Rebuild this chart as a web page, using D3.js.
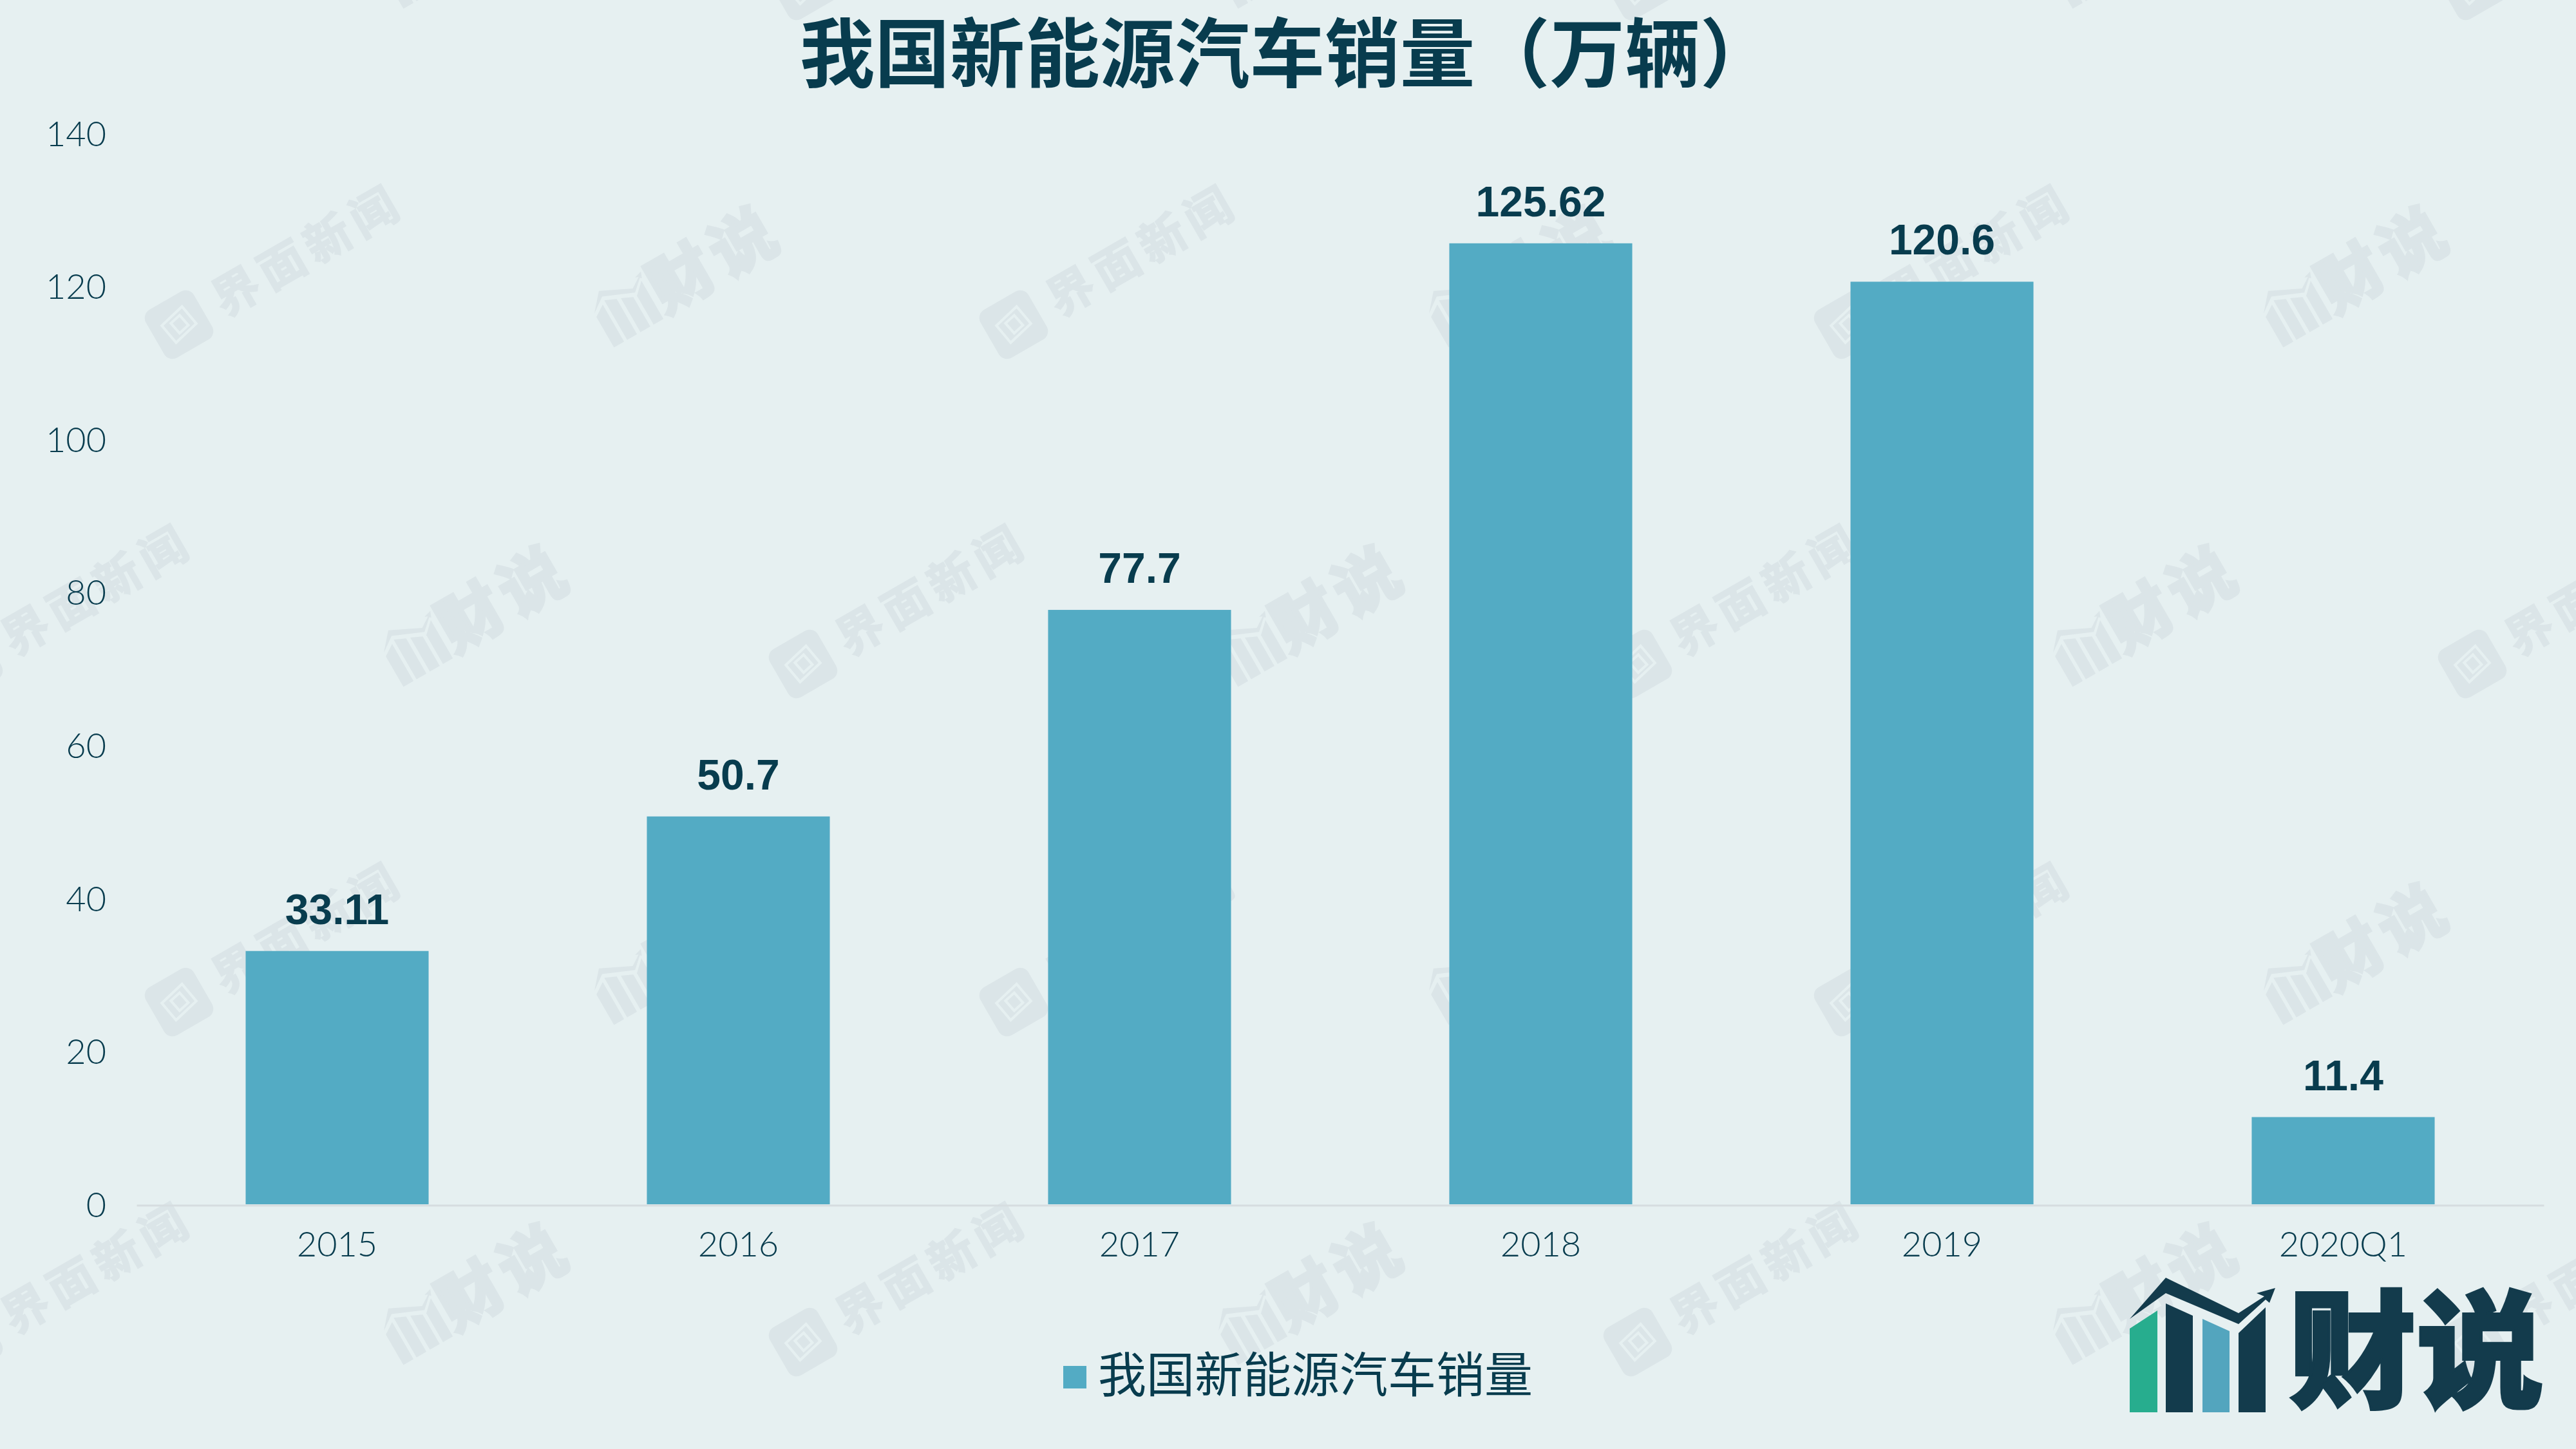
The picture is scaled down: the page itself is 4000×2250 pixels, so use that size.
<!DOCTYPE html>
<html>
<head>
<meta charset="utf-8">
<script src="https://cdn.jsdelivr.net/npm/d3@7"></script>
<style>
  html, body { margin: 0; padding: 0; background: #e6f0f1; }
  svg { display: block; }
  .cjk { font-family: "Noto Sans CJK SC", sans-serif; }
</style>
</head>
<body>
<svg id="chart"></svg>
<script>
var categories = ["2015", "2016", "2017", "2018", "2019", "2020Q1"];
var sales = [33.11, 50.7, 77.7, 125.62, 120.6, 11.4];
var yTicks = [0, 20, 40, 60, 80, 100, 120, 140];
var chartTitle = "我国新能源汽车销量（万辆）";
var seriesName = "我国新能源汽车销量";

var width = 4000, height = 2250;
var textColor = "#083c4e", barColor = "#53abc4", markColor = "#dbe5e8", bg = "#e6f0f1";

var svg = d3.select("#chart").attr("width", width).attr("height", height);
svg.append("rect").attr("width", width).attr("height", height).attr("fill", bg);

// logo shape, drawn around its own centre
var logoBars = [
    { fill: "#27ad8e", pts: [[-105, -27], [-62, -55], [-62, 103], [-105, 103]] },
    { fill: "#133b4c", pts: [[-49, -66], [-7, -47], [-7, 103], [-49, 103]] },
    { fill: "#53a5be", pts: [[8, -42], [50, -23], [50, 103], [8, 103]] },
    { fill: "#133b4c", pts: [[64, -20], [106, -60], [106, 103], [64, 103]] }
];
var logoArrow = [[-105, -42], [-49, -106], [64, -51], [104, -77], [92, -82], [121, -90], [112, -67], [106, -72], [64, -34], [-49, -82]];

function drawMark(g, scale, color) {
    var m = g.append("g").attr("transform", "scale(" + scale + ")");
    logoBars.forEach(function(b) {
        m.append("polygon").attr("points", b.pts.join(" ")).attr("fill", color || b.fill);
    });
    m.append("polygon").attr("points", logoArrow.join(" ")).attr("fill", color || "#133b4c");
}

// background watermark, repeats across the slide
var wmRows = [-22, 504, 1031, 1556, 2084];
var wmStart = [-49, 278];
wmRows.forEach(function(y, r) {
    for (var x = wmStart[r % 2] - 1296; x < width + 400; x += 1296) {
        var a = svg.append("g").attr("transform", "translate(" + x + "," + y + ") rotate(-30)");
        a.append("rect").attr("x", -43).attr("y", -43).attr("width", 86).attr("height", 86)
            .attr("rx", 15).attr("fill", markColor);
        a.append("path").attr("d", "M-24,-12 L18,-22 L24,12 L-18,22 Z M-10,-8 L8,-12 L12,8 L-6,12 Z")
            .attr("fill", "none").attr("stroke", bg).attr("stroke-width", 4);
        a.append("text").attr("class", "cjk").attr("x", 67).attr("y", 26)
            .attr("font-size", 72).attr("font-weight", 700).attr("letter-spacing", 10)
            .attr("fill", markColor).attr("stroke", markColor).attr("stroke-width", 2).text("界面新闻");

        var b = svg.append("g").attr("transform", "translate(" + (x + 692) + "," + (y - 24) + ") rotate(-30)");
        drawMark(b, 0.42, markColor);
        b.append("text").attr("class", "cjk").attr("x", 50).attr("y", 38)
            .attr("font-size", 100).attr("font-weight", 700).attr("letter-spacing", 10)
            .attr("fill", markColor).attr("stroke", markColor).attr("stroke-width", 5).text("财说");
    }
});

var x = d3.scaleBand().domain(categories).range([212, 3950]).paddingInner(0.544).paddingOuter(0.272);
var y = d3.scaleLinear().domain([0, 140]).range([1870, 207]);

svg.selectAll(".bar")
    .data(sales)
    .enter().append("rect")
    .attr("class", "bar")
    .attr("x", function(d, i) { return x(categories[i]); })
    .attr("y", function(d) { return y(d); })
    .attr("width", x.bandwidth())
    .attr("height", function(d) { return y(0) - y(d); })
    .attr("fill", barColor);

// axes
var xAxis = svg.append("g").attr("transform", "translate(0,1871.5)")
    .call(d3.axisBottom(x).tickSize(0).tickPadding(41));
xAxis.select(".domain").attr("stroke", "#d6dde0").attr("stroke-width", 3);
xAxis.selectAll("text").attr("font-family", "Lato").attr("font-weight", 300)
    .attr("font-size", 54).attr("fill", textColor);

var yAxis = svg.append("g").attr("transform", "translate(165,2)")
    .call(d3.axisLeft(y).tickValues(yTicks).tickSize(0).tickPadding(0));
yAxis.select(".domain").remove();
yAxis.selectAll("text").attr("font-family", "Lato").attr("font-weight", 300)
    .attr("font-size", 54).attr("fill", textColor);

// value labels
svg.selectAll(".val")
    .data(sales)
    .enter().append("text")
    .attr("class", "val")
    .attr("x", function(d, i) { return x(categories[i]) + x.bandwidth() / 2; })
    .attr("y", function(d) { return y(d) - 42; })
    .attr("text-anchor", "middle")
    .attr("font-family", "Liberation Sans")
    .attr("font-weight", 700)
    .attr("font-size", 66)
    .attr("fill", textColor)
    .text(function(d) { return d; });

// title
svg.append("text").attr("class", "cjk")
    .attr("x", 1999).attr("y", 126)
    .attr("text-anchor", "middle")
    .attr("font-size", 116.5).attr("font-weight", 700)
    .attr("fill", textColor)
    .text(chartTitle);

// legend
svg.append("rect").attr("x", 1651).attr("y", 2121).attr("width", 36).attr("height", 35).attr("fill", barColor);
svg.append("text").attr("class", "cjk")
    .attr("x", 1705).attr("y", 2162)
    .attr("font-size", 75)
    .attr("fill", textColor)
    .text(seriesName);

// logo bottom right
var logo = svg.append("g").attr("transform", "translate(3412,2090)");
drawMark(logo, 1);
svg.append("text").attr("class", "cjk")
    .attr("x", 3554).attr("y", 2170)
    .attr("font-size", 198).attr("font-weight", 900)
    .attr("fill", "#133b4c").attr("stroke", "#133b4c").attr("stroke-width", 4)
    .text("财说");
</script>
</body>
</html>
